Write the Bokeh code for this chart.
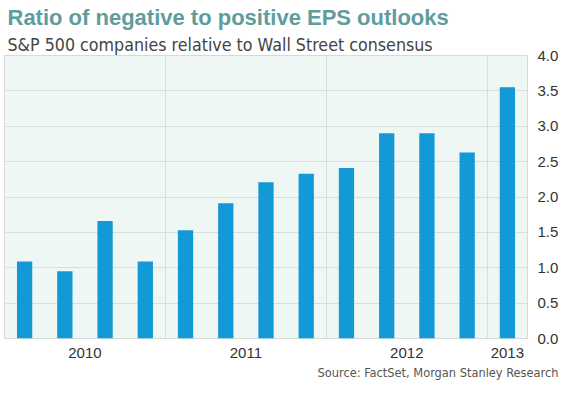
from bokeh.plotting import figure
from bokeh.models import FixedTicker, Title, ColumnDataSource, NumeralTickFormatter
from bokeh.embed import file_html
from bokeh.resources import INLINE

quarters = ["Q1 2010", "Q2 2010", "Q3 2010", "Q4 2010",
            "Q1 2011", "Q2 2011", "Q3 2011", "Q4 2011",
            "Q1 2012", "Q2 2012", "Q3 2012", "Q4 2012",
            "Q1 2013"]
ratios = [1.09, 0.95, 1.66, 1.09, 1.53, 1.91, 2.21, 2.33, 2.41, 2.90, 2.90, 2.63, 3.55]
year_labels = ["2010", "2011", "2012", "2013"]
y_ticks = [0.0, 0.5, 1.0, 1.5, 2.0, 2.5, 3.0, 3.5, 4.0]

idx = list(range(len(quarters)))
years = [q.split()[1] for q in quarters]
year_pos = {}
for i, y in zip(idx, years):
    year_pos.setdefault(y, []).append(i)
label_ticks = [sum(year_pos[y]) / len(year_pos[y]) for y in year_labels]
boundaries = [min(year_pos[y]) - 0.5 for y in year_labels[1:]]

NARROW = "'Liberation Sans Narrow', 'Liberation Sans', sans-serif"
SANS = "'DejaVu Sans Condensed', 'DejaVu Sans', sans-serif"

p = figure(frame_width=523, frame_height=283,
           x_range=(-0.5, len(quarters) - 0.5), y_range=(0, 4.0),
           y_axis_location="right", output_backend="svg", toolbar_location=None,
           min_border_left=4, min_border_right=26, min_border_top=0, min_border_bottom=0)

src = ColumnDataSource(dict(x=idx, top=ratios, q=quarters))
p.vbar(x="x", top="top", width=0.38, bottom=0, source=src,
       fill_color="#139ad6", line_color=None)

p.background_fill_color = "#eef7f4"
p.border_fill_color = "white"
p.outline_line_color = "#d3dcd8"

p.ygrid.ticker = FixedTicker(ticks=y_ticks)
p.ygrid.grid_line_color = "#d6dfdb"
p.xgrid.ticker = FixedTicker(ticks=boundaries)
p.xgrid.grid_line_color = "#d6dfdb"

ya = p.yaxis[0]
ya.ticker = FixedTicker(ticks=y_ticks)
ya.formatter = NumeralTickFormatter(format="0.0")
ya.axis_line_color = None
ya.major_tick_line_color = None
ya.minor_tick_line_color = None
ya.major_label_text_font = NARROW
ya.major_label_text_font_size = "15px"
ya.major_label_text_color = "#333333"
ya.major_label_standoff = 4

xa = p.xaxis[0]
xa.ticker = FixedTicker(ticks=label_ticks)
xa.major_label_overrides = {t: l for t, l in zip(label_ticks, year_labels)}
xa.axis_line_color = None
xa.major_tick_line_color = None
xa.minor_tick_line_color = None
xa.major_label_text_font = NARROW
xa.major_label_text_font_size = "15px"
xa.major_label_text_color = "#333333"
xa.major_label_standoff = 3

p.title.visible = False
sub = Title(text="S&P 500 companies relative to Wall Street consensus",
            text_font=SANS, text_font_size="17.7px", text_font_style="normal",
            text_color="#444444", align="left", offset=3, standoff=2)
main = Title(text="Ratio of negative to positive EPS outlooks",
             text_font=NARROW, text_font_size="22px", text_font_style="bold",
             text_color="#5e9c9e", align="left", offset=3, standoff=4)
p.add_layout(sub, "above")
p.add_layout(main, "above")

source = Title(text="Source: FactSet, Morgan Stanley Research",
               text_font=SANS, text_font_size="12.7px", text_font_style="normal",
               text_color="#555555", align="right", offset=-31, standoff=4)
p.add_layout(source, "below")

open("out.html", "w").write(file_html(p, INLINE))
